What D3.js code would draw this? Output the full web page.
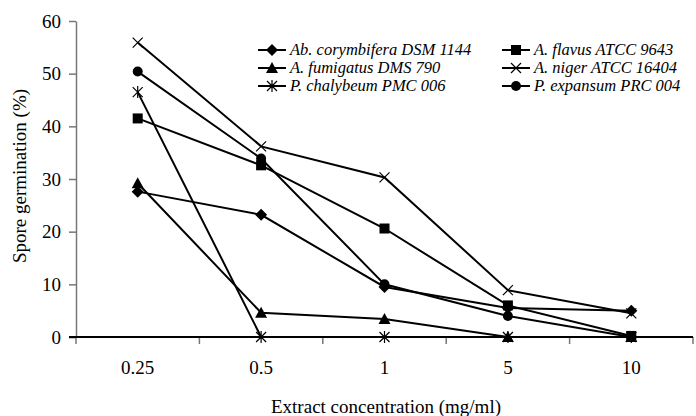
<!DOCTYPE html>
<html lang="en">
<head>
<meta charset="UTF-8">
<title>Spore germination</title>
<script src="https://d3js.org/d3.v7.min.js"></script>
<style>
  body { margin: 0; background: #fff; }
  svg text { font-family: "Liberation Serif", "Times New Roman", serif; fill: #000; }
</style>
</head>
<body>
<svg width="696" height="416"></svg>
<script>
// data
const concentrations = ["0.25", "0.5", "1", "5", "10"];
const yTicks = [0, 10, 20, 30, 40, 50, 60];

const seriesNames = [
  "Ab. corymbifera DSM 1144", "A. flavus ATCC 9643",
  "A. fumigatus DMS 790", "A. niger ATCC 16404",
  "P. chalybeum PMC 006", "P. expansum PRC 004"
];
const seriesMarkers = ["diamond", "square", "triangle", "cross", "star", "circle"];

const abCorymbifera = [27.6, 23.2, 9.5, 5.5, 5.0];
const aFlavus       = [41.5, 32.6, 20.6, 6.0, 0.2];
const aFumigatus    = [29.2, 4.6, 3.4, 0, 0];
const aNiger        = [55.9, 36.2, 30.3, 8.9, 4.5];
const pChalybeum    = [46.5, 0, 0, 0, 0];
const pExpansum     = [50.4, 33.9, 10.0, 4.0, 0];

const seriesValues = [abCorymbifera, aFlavus, aFumigatus, aNiger, pChalybeum, pExpansum];

const svg = d3.select("svg");
const margin = { top: 21, right: 3, bottom: 79, left: 76 };
const width = 696 - margin.left - margin.right;
const height = 416 - margin.top - margin.bottom;

const g = svg.append("g").attr("transform", `translate(${margin.left},${margin.top})`);

const x = d3.scaleBand().domain(concentrations).range([0, width]);
const y = d3.scaleLinear().domain([0, 60]).range([height, 0]);

// y axis (grey)
const yAxis = g.append("g")
  .call(d3.axisLeft(y).tickValues(yTicks).tickSize(7).tickPadding(8).tickSizeOuter(0));
yAxis.select(".domain").attr("stroke", "#777").attr("stroke-width", 1.5);
yAxis.selectAll(".tick line").attr("stroke", "#777").attr("stroke-width", 1.5);
yAxis.selectAll(".tick text").style("font-size", "19px");
yAxis.selectAll(".tick").filter(d => d === 0).select("line").attr("stroke", "#000");

// x axis: ticks on band boundaries
const bounds = concentrations.map(c => x(c)).concat([width]);
const xg = g.append("g").attr("transform", `translate(0,${height})`);
xg.selectAll("line.tk").data(bounds).join("line")
  .attr("class", "tk")
  .attr("x1", d => d).attr("x2", d => d)
  .attr("y1", 0).attr("y2", 7)
  .attr("stroke", "#777").attr("stroke-width", 1.5);
xg.append("line")
  .attr("x1", -7).attr("x2", width).attr("y1", 0).attr("y2", 0)
  .attr("stroke", "#000").attr("stroke-width", 2);
xg.selectAll("text.lbl").data(concentrations).join("text")
  .attr("class", "lbl")
  .attr("x", d => x(d) + x.bandwidth() / 2)
  .attr("y", 37)
  .attr("text-anchor", "middle")
  .style("font-size", "19px")
  .text(d => d);

// axis titles
svg.append("text")
  .attr("x", 386)
  .attr("y", 413)
  .attr("text-anchor", "middle")
  .style("font-size", "19px")
  .text("Extract concentration (mg/ml)");
svg.append("text")
  .attr("transform", `translate(26,176) rotate(-90)`)
  .attr("text-anchor", "middle")
  .style("font-size", "19px")
  .text("Spore germination (%)");

// marker drawing
function drawMarker(sel, type) {
  if (type === "diamond") {
    sel.append("path").attr("d", "M0,-6L6,0L0,6L-6,0Z").attr("fill", "#000");
  } else if (type === "square") {
    sel.append("rect").attr("x", -5).attr("y", -5).attr("width", 10).attr("height", 10).attr("fill", "#000");
  } else if (type === "triangle") {
    sel.append("path").attr("d", "M0,-6L6,5L-6,5Z").attr("fill", "#000");
  } else if (type === "circle") {
    sel.append("circle").attr("r", 5).attr("fill", "#000");
  } else if (type === "cross") {
    sel.append("path").attr("d", "M-5,-5L5,5M-5,5L5,-5").attr("stroke", "#000").attr("stroke-width", 1.2);
  } else if (type === "star") {
    sel.append("path").attr("d", "M-5,-5L5,5M-5,5L5,-5M0,-6L0,6").attr("stroke", "#000").attr("stroke-width", 1.2);
  }
}

const line = d3.line()
  .x((d, i) => x(concentrations[i]) + x.bandwidth() / 2)
  .y(d => y(d));

seriesValues.forEach((vals, k) => {
  g.append("path")
    .datum(vals)
    .attr("fill", "none")
    .attr("stroke", "#000")
    .attr("stroke-width", 2)
    .attr("d", line);
  vals.forEach((v, i) => {
    const m = g.append("g")
      .attr("transform", `translate(${x(concentrations[i]) + x.bandwidth() / 2},${y(v)})`);
    drawMarker(m, seriesMarkers[k]);
  });
});

// legend, two columns
const legend = svg.append("g");
seriesNames.forEach((name, k) => {
  const col = k % 2, row = Math.floor(k / 2);
  const lx = col === 0 ? 258 : 502;
  const ly = 50 + row * 18;
  const item = legend.append("g").attr("transform", `translate(${lx},${ly})`);
  item.append("line").attr("x1", 0).attr("x2", 28).attr("y1", 0).attr("y2", 0)
    .attr("stroke", "#000").attr("stroke-width", 2);
  const m = item.append("g").attr("transform", "translate(14,0)");
  drawMarker(m, seriesMarkers[k]);
  item.append("text")
    .attr("x", 32).attr("y", 5)
    .style("font-size", "16.5px")
    .style("font-style", "italic")
    .text(name);
});
</script>
</body>
</html>
